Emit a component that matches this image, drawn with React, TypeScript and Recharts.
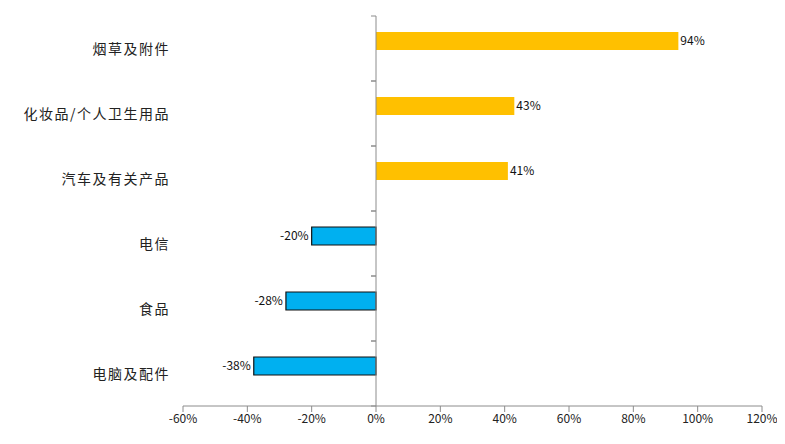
import { Bar, BarChart, Cell, LabelList, Rectangle, ReferenceLine, XAxis, YAxis } from 'recharts';

const categories = ['烟草及附件', '化妆品/个人卫生用品', '汽车及有关产品', '电信', '食品', '电脑及配件'];
const growth = [94, 43, 41, -20, -28, -38];
const xTicks = [-60, -40, -20, 0, 20, 40, 60, 80, 100, 120];

const POS = '#FFC000';
const NEG = '#00B0F0';
const AXIS = '#8c8c8c';
const FONT = '"Noto Sans CJK SC", "Noto Sans", sans-serif';

const W = 777;
const H = 436;
const MARGIN = { top: 8, right: 23, bottom: 8, left: 0 };
const Y_AXIS_W = 175;
const X_AXIS_H = 30;
const DOMAIN: [number, number] = [-60, 120];
const plotW = W - MARGIN.left - MARGIN.right - Y_AXIS_W;
const plotH = H - MARGIN.top - MARGIN.bottom - X_AXIS_H;
const zeroX = MARGIN.left + Y_AXIS_W + (plotW * (0 - DOMAIN[0])) / (DOMAIN[1] - DOMAIN[0]);
const band = plotH / categories.length;
// bars sit a bit above the category centre, as in the original
const SHIFT = -8;

const data = categories.map((name, i) => ({ name, value: growth[i] }));

function CategoryTick({ y, payload }: any) {
  return (
    <g>
      <text x={162} y={y} dy={5} textAnchor="end" fontSize={14} letterSpacing={1.5} fill="#222" fontFamily={FONT}>
        {payload.value}
      </text>
      <line x1={zeroX - 5} x2={zeroX} y1={y - band / 2} y2={y - band / 2} stroke={AXIS} />
      <line x1={zeroX - 5} x2={zeroX} y1={y + band / 2} y2={y + band / 2} stroke={AXIS} />
    </g>
  );
}

function ShiftedBar(props: any) {
  return <Rectangle {...props} y={props.y + SHIFT} />;
}

function ValueLabel(props: any) {
  const { x, y, width, height, value } = props;
  const positive = value >= 0;
  const end = positive ? Math.max(x, x + width) : Math.min(x, x + width);
  return (
    <text
      x={positive ? end + 2 : end - 3}
      y={y + height / 2 + SHIFT}
      dy={4}
      textAnchor={positive ? 'start' : 'end'}
      fontSize={12}
      fill="#111"
      fontFamily={FONT}
    >
      {`${value}%`}
    </text>
  );
}

export default function App() {
  return (
    <BarChart width={W} height={H} data={data} layout="vertical" margin={MARGIN}>
      <XAxis
        type="number"
        domain={DOMAIN}
        ticks={xTicks}
        interval={0}
        height={X_AXIS_H}
        tickFormatter={(v: number) => `${v}%`}
        axisLine={{ stroke: AXIS }}
        tickLine={{ stroke: AXIS }}
        tick={{ fontSize: 12, fill: '#222', fontFamily: FONT }}
      />
      <YAxis
        type="category"
        dataKey="name"
        width={Y_AXIS_W}
        axisLine={false}
        tickLine={false}
        tick={<CategoryTick />}
        interval={0}
      />
      <ReferenceLine x={0} stroke={AXIS} />
      <Bar dataKey="value" barSize={18} isAnimationActive={false} shape={<ShiftedBar />}>
        {data.map((d, i) => (
          <Cell key={i} fill={d.value >= 0 ? POS : NEG} stroke={d.value >= 0 ? 'none' : '#111'} strokeWidth={1.2} />
        ))}
        <LabelList dataKey="value" content={<ValueLabel />} />
      </Bar>
    </BarChart>
  );
}
